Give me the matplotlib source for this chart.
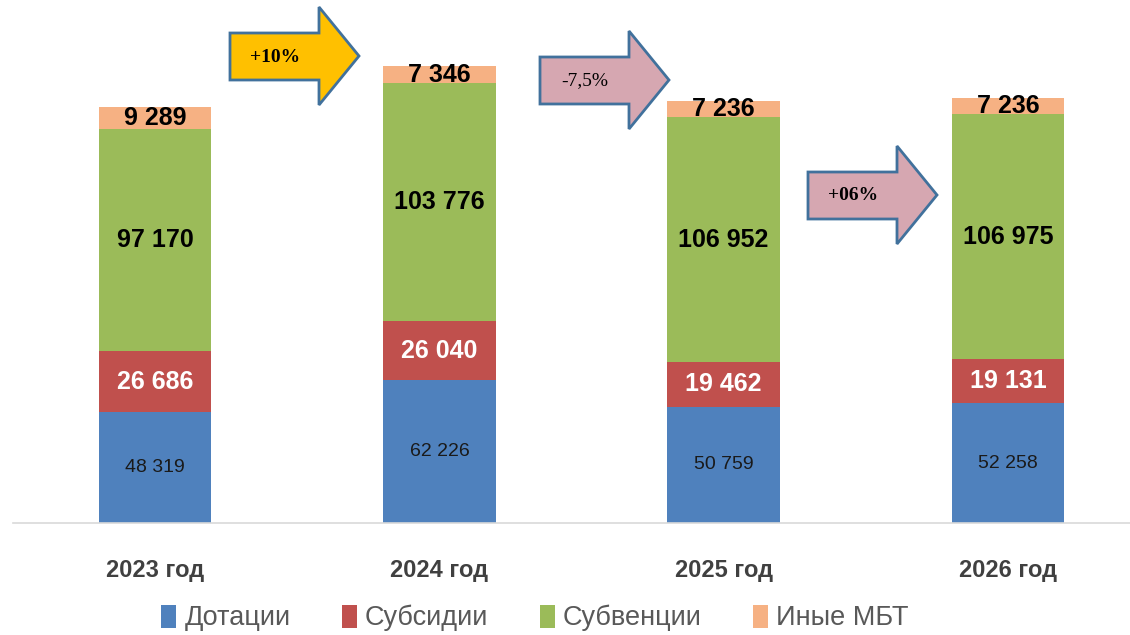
import matplotlib
matplotlib.use('Agg')
import matplotlib.pyplot as plt
from matplotlib.patches import Polygon, Patch

# values, thousands of roubles
years = ['2023 год', '2024 год', '2025 год', '2026 год']
dotacii = [48319, 62226, 50759, 52258]
subsidii = [26686, 26040, 19462, 19131]
subvencii = [97170, 103776, 106952, 106975]
inye = [9289, 7346, 7236, 7236]

series_names = ['Дотации', 'Субсидии', 'Субвенции', 'Иные МБТ']
colors = ['#4F81BD', '#C0504D', '#9BBB59', '#F6B183']

# growth arrows
arrow_labels = ['+10%', '-7,5%', '+06%']
arrow_colors = ['#FFC000', '#D6A7B1', '#D6A7B1']
arrow_bold = [True, False, True]
arrow_pos = [(230, 7), (540, 31), (808, 146)]  # left x, head top y (px)

sans = ['Liberation Sans', 'DejaVu Sans']

W, H = 1130, 635
fig = plt.figure(figsize=(W / 100, H / 100), dpi=100)
ax = fig.add_axes([13 / W, 1 - 523 / H, 1137 / W, 504 / H])

series = [dotacii, subsidii, subvencii, inye]
x = list(range(len(years)))
bottom = [0] * len(years)
label_style = [
    dict(color='#1a1a1a', fontsize=14, fontweight='normal'),
    dict(color='white', fontsize=18, fontweight='bold'),
    dict(color='black', fontsize=18, fontweight='bold'),
    dict(color='black', fontsize=18, fontweight='bold'),
]
for vals, col, st in zip(series, colors, label_style):
    ax.bar(x, vals, width=0.395, bottom=bottom, color=col, zorder=2)
    for i, v in enumerate(vals):
        txt = f'{v:,}'.replace(',', ' ')
        ax.text(x[i], bottom[i] + v / 2, txt, ha='center', va='center',
                family=sans, zorder=3, **st)
    bottom = [b + v for b, v in zip(bottom, vals)]

ax.set_xlim(-0.5, 3.5)
ax.set_ylim(0, 220000)
ax.set_yticks([])
for s in ['left', 'right', 'top']:
    ax.spines[s].set_visible(False)
ax.spines['bottom'].set_color('#D9D9D9')
ax.spines['bottom'].set_linewidth(1.2)
ax.set_xticks(x)
ax.set_xticklabels(years, family=sans, fontsize=17, fontweight='bold',
                   color='#404040')
ax.tick_params(axis='x', length=0, pad=26)

# arrows, drawn in figure pixel coordinates
to_fig = lambda px, py: (px / W, 1 - py / H)
for lab, fc, bold, (lx, ty) in zip(arrow_labels, arrow_colors, arrow_bold, arrow_pos):
    body_w, head_w = 89, 40
    head_h, body_off = 98, 26
    body_h = 47
    pts = [
        (lx, ty + body_off), (lx + body_w, ty + body_off), (lx + body_w, ty),
        (lx + body_w + head_w, ty + head_h / 2), (lx + body_w, ty + head_h),
        (lx + body_w, ty + body_off + body_h), (lx, ty + body_off + body_h),
    ]
    poly = Polygon([to_fig(*p) for p in pts], closed=True, transform=fig.transFigure,
                   facecolor=fc, edgecolor='#41719C', linewidth=2, zorder=5)
    fig.patches.append(poly)
    fig.text(*to_fig(lx + 45, ty + head_h / 2 + 1), lab, ha='center', va='center',
             family=['Liberation Serif', 'DejaVu Serif'], fontsize=14,
             fontweight='bold' if bold else 'normal', color='black', zorder=6)

handles = [Patch(facecolor=c, edgecolor='none') for c in colors]
fig.legend(handles, series_names, loc='center', bbox_to_anchor=(535 / W, 1 - 618 / H),
           ncol=4, frameon=False, handlelength=0.55, handleheight=0.95,
           handletextpad=0.3, columnspacing=1.9,
           prop={'family': sans, 'size': 19.5}, labelcolor='#595959')

fig.savefig('out.png', dpi=100)
